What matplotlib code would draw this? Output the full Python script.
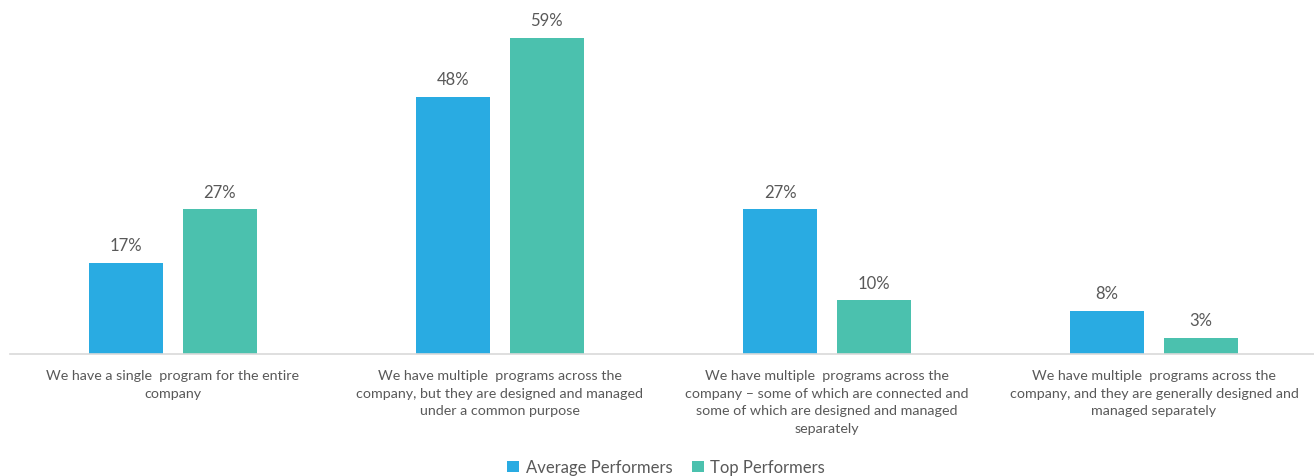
import matplotlib.pyplot as plt
import numpy as np

# survey answers and shares per performer group
categories = [
    "We have a single  program for the entire\ncompany",
    "We have multiple  programs across the\ncompany, but they are designed and managed\nunder a common purpose",
    "We have multiple  programs across the\ncompany \u2013 some of which are connected and\nsome of which are designed and managed\nseparately",
    "We have multiple  programs across the\ncompany, and they are generally designed and\nmanaged separately",
]
average_performers = [17, 48, 27, 8]
top_performers = [27, 59, 10, 3]

BLUE = "#29ABE2"
TEAL = "#4BC1AE"
TEXT = "#595959"

plt.rcParams["font.family"] = ["Lato", "DejaVu Sans"]

fig = plt.figure(figsize=(13.14, 4.77), dpi=100)
# axes runs past the right edge, so the last label gets clipped
ax = fig.add_axes([9.5 / 1314, 1 - 355 / 477, 1308 / 1314, 321.6 / 477])

x = np.arange(len(categories))
width = 0.226
offset = 0.143

bars_avg = ax.bar(x - offset, average_performers, width, color=BLUE, label="Average Performers")
bars_top = ax.bar(x + offset, top_performers, width, color=TEAL, label="Top Performers")

for bars in (bars_avg, bars_top):
    for b in bars:
        ax.annotate(f"{b.get_height():.0f}%",
                    (b.get_x() + b.get_width() / 2, b.get_height()),
                    xytext=(0, 7), textcoords="offset points",
                    ha="center", va="bottom", fontsize=12, color=TEXT,
                    clip_on=False)

ax.set_xlim(-0.5, len(categories) - 0.5)
ax.set_ylim(0, 60)
ax.set_xticks(x)
ax.set_xticklabels(categories, fontsize=10.3, color=TEXT, linespacing=1.55)
ax.tick_params(axis="x", length=0, pad=11)
ax.set_yticks([])

for side in ("top", "right", "left"):
    ax.spines[side].set_visible(False)
ax.spines["bottom"].set_color("#D9D9D9")
ax.spines["bottom"].set_linewidth(1.2)

fig.legend(handles=[bars_avg, bars_top], loc="center", ncol=2,
           bbox_to_anchor=(0.507, 0.018), frameon=False,
           fontsize=12, labelcolor=TEXT, handlelength=0.7,
           handleheight=0.7, handletextpad=0.4, columnspacing=1.2)

fig.savefig("out.png", dpi=100)
